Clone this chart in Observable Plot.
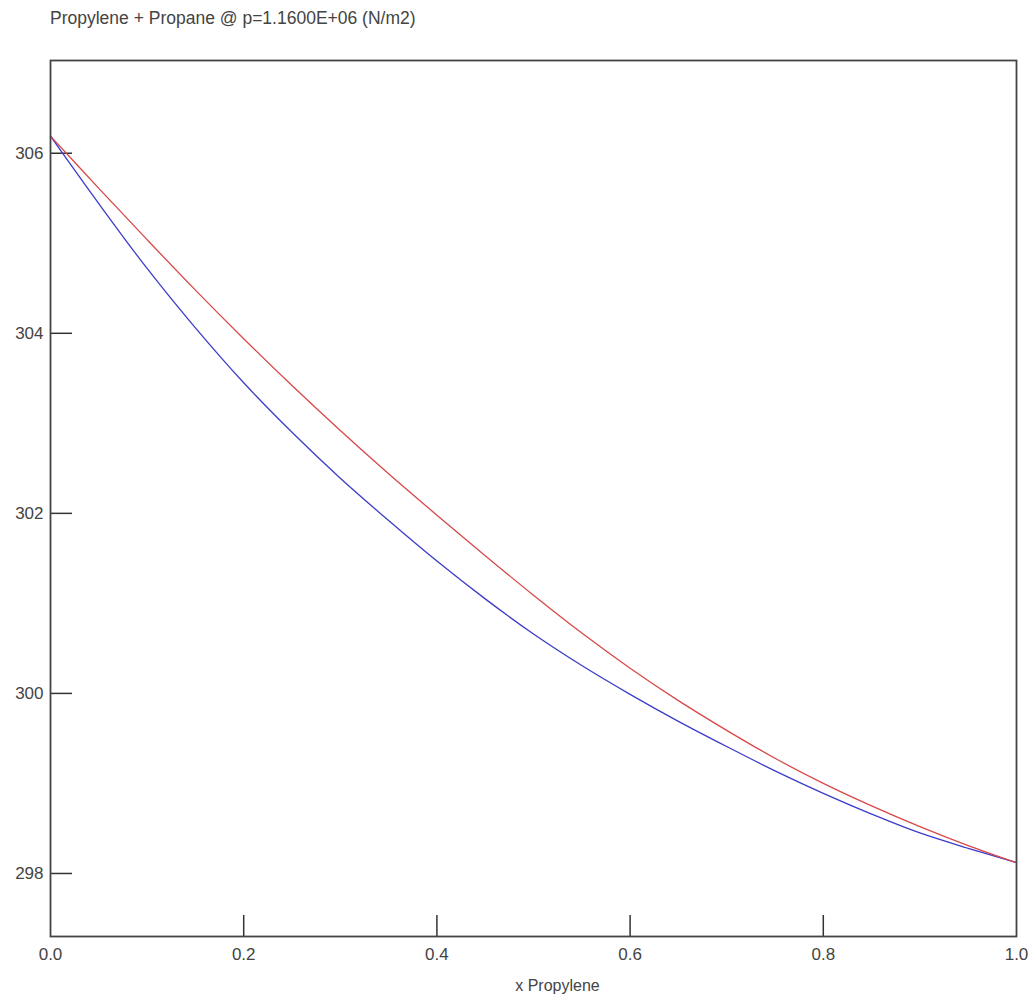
<!DOCTYPE html>
<html>
<head>
<meta charset="utf-8">
<script src="https://cdn.jsdelivr.net/npm/d3@7"></script>
<script src="https://cdn.jsdelivr.net/npm/@observablehq/plot@0.6"></script>
<style>
  body { margin: 0; background: #fff; }
  #title { height: 36px; line-height: 36px; padding-left: 50px; font-family: "Liberation Sans", Arial, sans-serif; font-size: 17.5px; color: #444; white-space: nowrap; }
</style>
</head>
<body>
<div id="title">Propylene + Propane @ p=1.1600E+06 (N/m2)</div>
<div id="chart"></div>
<script>
const xFraction = [0, 0.05, 0.1, 0.15, 0.2, 0.25, 0.3, 0.35, 0.4, 0.45, 0.5, 0.55, 0.6, 0.65, 0.7, 0.75, 0.8, 0.85, 0.9, 0.95, 1.0];
const bubbleT = [306.19, 305.44, 304.72, 304.06, 303.45, 302.90, 302.39, 301.92, 301.47, 301.05, 300.66, 300.31, 299.99, 299.69, 299.41, 299.14, 298.89, 298.66, 298.45, 298.28, 298.12];
const dewT = [306.19, 305.61, 305.04, 304.48, 303.94, 303.42, 302.92, 302.44, 301.98, 301.53, 301.09, 300.67, 300.28, 299.92, 299.59, 299.28, 299.00, 298.75, 298.52, 298.31, 298.12];
const xTicks = [0.0, 0.2, 0.4, 0.6, 0.8, 1.0];
const xInnerTicks = [0.2, 0.4, 0.6, 0.8];
const yTicks = [298, 300, 302, 304, 306];
const xLabel = "x Propylene";

const bubble = xFraction.map((x, i) => ({x, t: bubbleT[i]}));
const dew = xFraction.map((x, i) => ({x, t: dewT[i]}));

const W = 1035, H = 972, mL = 50, mR = 19, mT = 24, mB = 72;
const frameW = W - mL - mR, frameH = H - mT - mB;

const chart = Plot.plot({
  width: W,
  height: H,
  marginLeft: mL,
  marginRight: mR,
  marginTop: mT,
  marginBottom: mB,
  style: {fontFamily: "'Liberation Sans', Arial, sans-serif", fontSize: "17px", color: "#444", background: "#fff"},
  x: {domain: [0, 1]},
  y: {domain: [297.30, 307.03]},
  marks: [
    Plot.axisX({ticks: xTicks, tickSize: 0, tickPadding: 11, tickFormat: d3.format(".1f"), label: null, fill: "#444"}),
    Plot.axisY({ticks: yTicks, tickSize: 0, tickPadding: 7, tickFormat: d => String(d), label: null, fill: "#444"}),
    Plot.tickX(xInnerTicks, {x: d => d, stroke: "#333", strokeWidth: 1.5, insetTop: frameH - 21}),
    Plot.tickY(yTicks, {y: d => d, stroke: "#333", strokeWidth: 1.5, insetRight: frameW - 22}),
    Plot.line(bubble, {x: "x", y: "t", stroke: "#3c3cc8", strokeWidth: 1.3, curve: "catmull-rom"}),
    Plot.line(dew, {x: "x", y: "t", stroke: "#d84848", strokeWidth: 1.3, curve: "catmull-rom"}),
    Plot.frame({stroke: "#444", strokeWidth: 1.8}),
    Plot.text([xLabel], {text: d => d, frameAnchor: "bottom", dx: 24, dy: 54, fill: "#444", fontSize: 16})
  ]
});
document.getElementById("chart").appendChild(chart);
</script>
</body>
</html>
